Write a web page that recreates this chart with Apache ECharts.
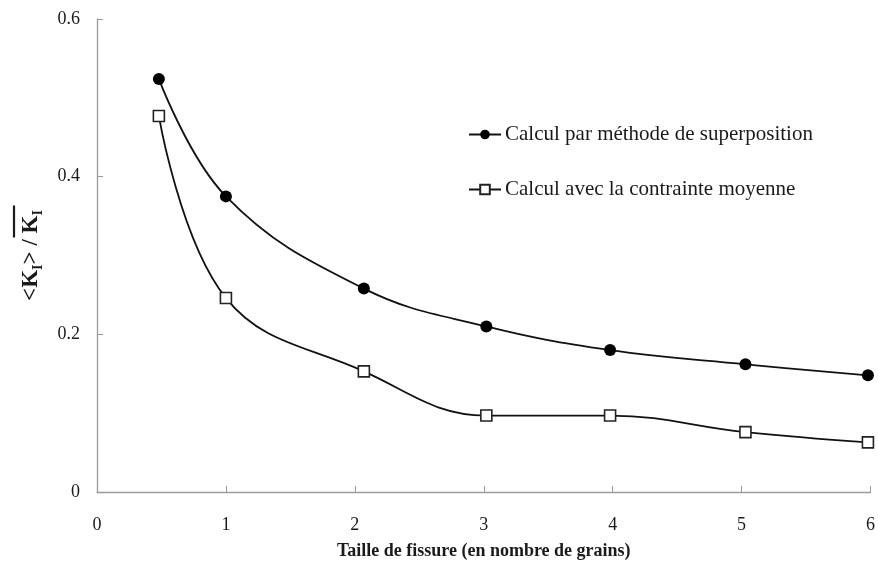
<!DOCTYPE html>
<html>
<head>
<meta charset="utf-8">
<script src="https://cdn.jsdelivr.net/npm/echarts@6/dist/echarts.min.js"></script>
<style>
  html, body { margin: 0; padding: 0; background: #fff; }
  #chart { width: 878px; height: 574px; }
</style>
</head>
<body>
<div id="chart"></div>
<script>
// Crack size (in number of grains) and normalised stress intensity factor
const crackSize = [0.48, 1.0, 2.07, 3.02, 3.98, 5.03, 5.98];
const superposition = [0.524, 0.375, 0.258, 0.210, 0.180, 0.162, 0.148];
const meanStress = [0.477, 0.246, 0.153, 0.097, 0.097, 0.076, 0.063];
const seriesNames = ['Calcul par méthode de superposition', 'Calcul avec la contrainte moyenne'];

const pairs = (xs, ys) => xs.map((x, i) => [x, ys[i]]);

const serif = '"Liberation Serif", "DejaVu Serif", serif';
const axisGray = '#9a9a9a';
const ink = '#1a1a1a';

const chart = echarts.init(document.getElementById('chart'), null, { renderer: 'canvas' });

chart.setOption({
  animation: false,
  backgroundColor: '#fff',
  textStyle: { fontFamily: serif },
  grid: { left: 97, right: 7, top: 19, bottom: 82, containLabel: false },
  legend: {
    orient: 'vertical',
    left: 463,
    top: 119,
    itemGap: 34,
    itemWidth: 32,
    itemHeight: 12,
    textStyle: { fontFamily: serif, fontSize: 21, color: ink, padding: [0, 0, 0, -1] },
    data: seriesNames
  },
  xAxis: {
    type: 'value',
    min: 0,
    max: 6,
    interval: 1,
    name: 'Taille de fissure (en nombre de grains)',
    nameLocation: 'middle',
    nameGap: 50,
    nameTextStyle: { fontFamily: serif, fontSize: 18, fontWeight: 'bold', color: ink },
    axisLine: { show: true, lineStyle: { color: axisGray, width: 1.3 } },
    axisTick: { show: true, inside: true, length: 6, lineStyle: { color: axisGray } },
    axisLabel: { fontFamily: serif, fontSize: 18, color: ink, margin: 24 },
    splitLine: { show: false }
  },
  yAxis: {
    type: 'value',
    min: 0,
    max: 0.6,
    interval: 0.2,
    name: '{a|<K}{s|I}{a|> / }{b|K}{t|I}',
    nameLocation: 'middle',
    nameGap: 52,
    nameRotate: 90,
    nameTextStyle: {
      fontFamily: serif,
      fontWeight: 'bold',
      color: ink,
      rich: {
        a: { fontFamily: serif, fontWeight: 'bold', fontSize: 23, color: ink },
        b: { fontFamily: serif, fontWeight: 'bold', fontSize: 23, color: ink },
        s: { fontFamily: serif, fontWeight: 'bold', fontSize: 14, color: ink, padding: [13, 0, 0, 0] },
        t: { fontFamily: serif, fontWeight: 'bold', fontSize: 14, color: ink, padding: [13, 0, 0, 0] }
      }
    },
    axisLine: { show: true, lineStyle: { color: axisGray, width: 1.3 } },
    axisTick: { show: true, inside: true, length: 6, lineStyle: { color: axisGray } },
    axisLabel: {
      fontFamily: serif, fontSize: 18, color: ink, margin: 17,
      formatter: v => (v === 0 ? '0' : v.toFixed(1))
    },
    splitLine: { show: false }
  },
  series: [
    {
      name: seriesNames[0],
      type: 'line',
      smooth: 0.4,
      data: pairs(crackSize, superposition),
      symbol: 'circle',
      symbolSize: 12,
      lineStyle: { color: '#111', width: 1.8 },
      itemStyle: { color: '#000', borderColor: '#000', borderWidth: 0 }
    },
    {
      name: seriesNames[1],
      type: 'line',
      smooth: 0.4,
      data: pairs(crackSize, meanStress),
      symbol: 'rect',
      symbolSize: 11,
      lineStyle: { color: '#111', width: 1.8 },
      itemStyle: { color: '#fff', borderColor: '#222', borderWidth: 1.6 }
    }
  ]
});

// Overline over the mean value K_I in the rotated axis name
function drawOverline() {
  const grid = chart.getModel().getComponent('grid', 0).coordinateSystem.getRect();
  const cy = grid.y + grid.height / 2;
  chart.setOption({
    graphic: [{
      type: 'line',
      shape: { x1: 14, y1: cy - 50, x2: 14, y2: cy - 18 },
      style: { stroke: ink, lineWidth: 2.2 },
      silent: true
    }]
  });
}
drawOverline();
</script>
</body>
</html>
